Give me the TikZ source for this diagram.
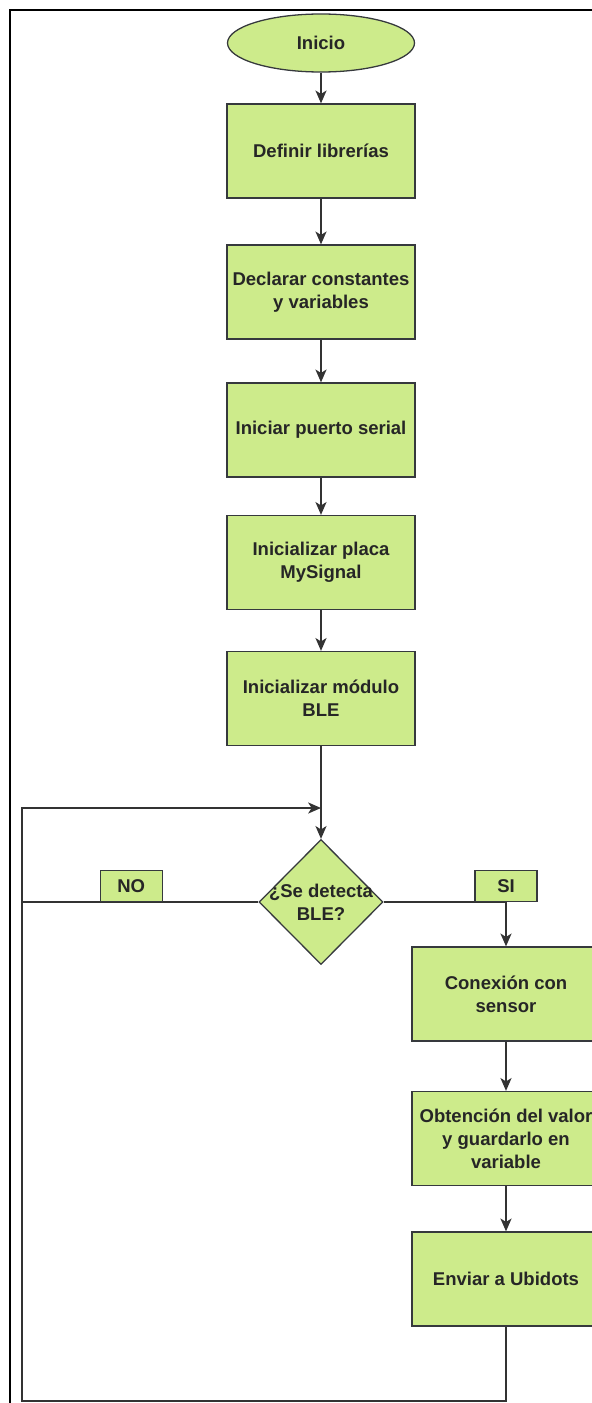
\documentclass[tikz,border=0pt]{standalone}
\usepackage{fontspec}
\setmainfont{Liberation Sans}
\usetikzlibrary{positioning,shapes.geometric,arrows.meta}
\definecolor{boxfill}{HTML}{CDEB8B}
\definecolor{boxline}{HTML}{36393D}
\definecolor{wire}{HTML}{333333}
\tikzset{
    base/.style={draw=boxline, fill=boxfill, line width=1.1pt, text=black!85, align=center, inner sep=0pt,
        font=\fontsize{15.8}{19.5}\selectfont\bfseries},
    box/.style={base, rectangle, minimum width=5.64cm, minimum height=2.82cm},
    start/.style={base, ellipse, minimum width=5.61cm, minimum height=1.74cm},
    cond/.style={base, diamond, minimum width=3.72cm, minimum height=3.75cm},
    tag/.style={base, rectangle, minimum width=1.86cm, minimum height=0.93cm},
    link/.style={draw=wire, line width=1.2pt},
}
\begin{document}
\begin{tikzpicture}[>={Stealth[length=11pt,width=9.5pt,inset=3pt]}]
          \useasboundingbox (0,0) rectangle (17.76,-42.09);
          \draw[black, line width=0.06cm] (0.3,-42.3) |- (17.9,-0.3);

          \node[start] (0) at (9.63,-1.29) {Inicio};
          \node[box] (1) [below of=0, node distance=3.24cm] {Definir librerías};
          \node[box] (2) [below of=1, node distance=4.23cm] {Declarar constantes\\y variables};
          \node[box] (3) [below of=2, node distance=4.14cm] {Iniciar puerto serial};
          \node[box] (4) [below of=3, node distance=3.975cm] {Inicializar placa\\MySignal};
          \node[box] (5) [below of=4, node distance=4.08cm] {Inicializar módulo\\BLE};
          \node[cond] (6) [below of=5, node distance=6.105cm] {};
          \node[font=\fontsize{15.8}{19.5}\selectfont\bfseries, text=black!85, align=center] (6t) at (6) {¿Se detecta\\BLE?};
          \node[box] (7) [below of=6, xshift=5.55cm, node distance=2.76cm] {Conexión con\\sensor};
          \node[box] (8) [below of=7, node distance=4.335cm] {Obtención del valor\\y guardarlo en\\variable};
          \node[box] (9) [below of=8, node distance=4.215cm] {Enviar a Ubidots};

          \coordinate (j) at (9.63,-24.24);
          \coordinate (d) at (0.66,-42.03);

          \draw[link, ->] (0) -- (1);
          \draw[link, ->] (1) -- (2);
          \draw[link, ->] (2) -- (3);
          \draw[link, ->] (3) -- (4);
          \draw[link, ->] (4) -- (5);
          \draw[link, ->] (5) -- (6);
          \draw[link] (6.west) -- node[tag, above, pos=0.538] {NO} (6.west -| d);
          \draw[link, ->] (6.east) -| node[tag, above, pos=0.5] {SI} (7);
          \draw[link, ->] (7) -- (8);
          \draw[link, ->] (8) -- (9);
          \draw[link, ->] (9.south) |- (d) |- (j);
    \end{tikzpicture}
\end{document}
